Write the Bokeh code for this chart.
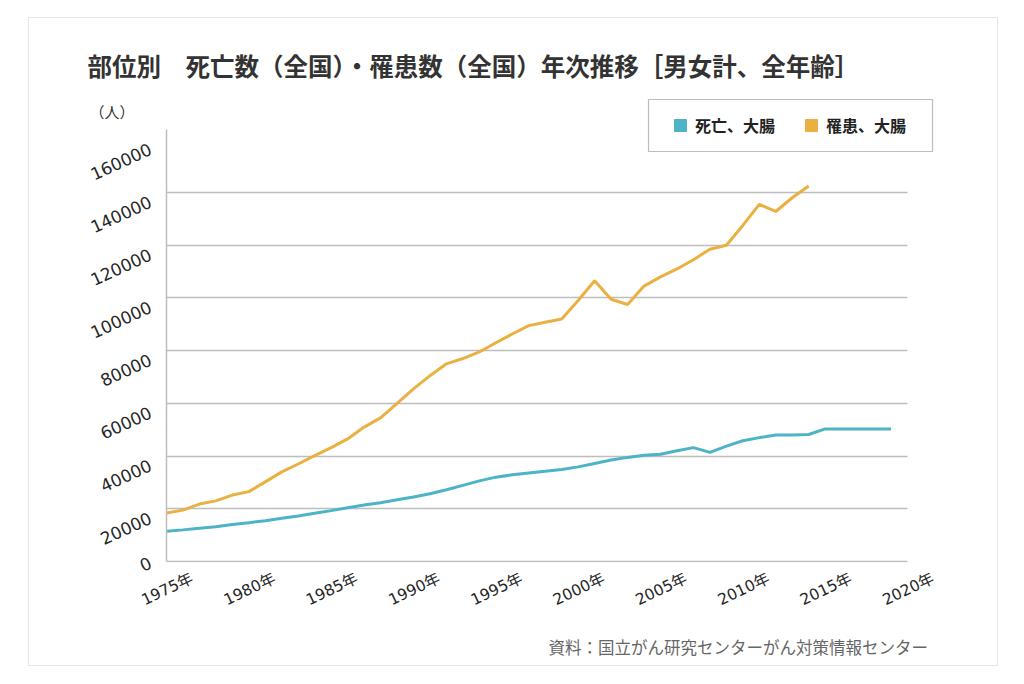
from bokeh.plotting import figure
from bokeh.models import (Range1d, FixedTicker, Legend, LegendItem, BoxAnnotation,
                          Title, LinearAxis, InlineStyleSheet)
from bokeh.embed import file_html
from bokeh.resources import INLINE

# ---- data ----
years_death = list(range(1975, 2020))
deaths = [11500, 12000, 12600, 13200, 14000, 14700, 15500, 16400, 17300, 18300,
          19300, 20400, 21400, 22300, 23400, 24500, 25700, 27200, 28900, 30600,
          32000, 32900, 33600, 34200, 34900, 35900, 37200, 38500, 39500, 40300,
          40700, 42000, 43200, 41400, 43800, 45800, 47000, 48000, 48000, 48200,
          50300, 50300, 50300, 50300, 50300]
years_inc = list(range(1975, 2015))
incidence = [18400, 19500, 21800, 23000, 25200, 26500, 30200, 34000, 37000, 40200,
             43200, 46500, 51000, 54500, 60000, 65500, 70500, 75000, 77000, 79500,
             83000, 86300, 89500, 90800, 92000, 99000, 106500, 99500, 97500, 104500,
             108000, 111000, 114500, 118500, 120000, 127500, 135500, 132800, 138000, 142500]
series_names = ["死亡、大腸", "罹患、大腸"]
x_ticks = [1975, 1980, 1985, 1990, 1995, 2000, 2005, 2010, 2015, 2020]
x_tick_labels = [f"{y}年" for y in x_ticks]
y_ticks = [0, 20000, 40000, 60000, 80000, 100000, 120000, 140000, 160000]
y_tick_labels = [str(v) for v in y_ticks]
title_text = "部位別　死亡数（全国）・罹患数（全国）年次推移［男女計、全年齢］"
unit_text = "（人）"
source_text = "資料：国立がん研究センターがん対策情報センター"

BLUE = "#4db3c6"
ORANGE = "#e9b042"
GRID = "#bdbdbd"
CJK = "Noto Sans CJK JP"
NUMF = "'DejaVu Sans', 'Noto Sans CJK JP'"
NAN = float("nan")

# ---- geometry (page pixels) ----
W, H = 1008, 676
FL, FT, FB = 166, 90, 562          # frame left / top / bottom
X0_PX, X1_PX = 166, 907            # 1975 and 2020
Y0_PX, PX_PER = 561, 369 / 140000  # value 0 and px per unit
px_per_year = (X1_PX - X0_PX) / 45
x_end = 2020 + (W - X1_PX) / px_per_year
y_start = -(FB - Y0_PX) / PX_PER
y_end = (Y0_PX - FT) / PX_PER
AXIS_TOP = 164000

p = figure(width=W, height=H, output_backend="svg", toolbar_location=None,
           x_range=Range1d(1975, x_end), y_range=Range1d(y_start, y_end),
           min_border_left=FL, min_border_right=0, min_border_top=FT,
           min_border_bottom=H - FB)
p.outline_line_color = None
p.background_fill_color = "white"
p.border_fill_color = "white"

# main title
p.title.text = title_text
p.title.align = "left"
p.title.offset = 87 - FL
p.title.text_font = CJK
p.title.text_font_size = "24.5px"
p.title.text_font_style = "bold"
p.title.text_color = "#333333"
p.title.standoff = 15

# x axis (labels centred under their year; line drawn by the zero grid line)
shift = 1.5625
p.xaxis.ticker = FixedTicker(ticks=[t + shift for t in x_ticks])
p.xaxis.major_label_overrides = {t + shift: lab for t, lab in zip(x_ticks, x_tick_labels)}
p.xaxis.axis_line_color = None
p.xaxis.major_label_standoff = 15

# y axis (long labels hang slightly below their grid line, as in the original)
y_label_pos = [v - (0 if v == 0 else 8) / PX_PER for v in y_ticks]
p.yaxis.ticker = FixedTicker(ticks=y_label_pos)
p.yaxis.major_label_overrides = dict(zip(y_label_pos, y_tick_labels))
p.yaxis.bounds = (0, AXIS_TOP)
p.yaxis.axis_line_color = GRID
p.yaxis.axis_line_width = 1.5
p.yaxis.major_label_standoff = 16

for ax in (p.xaxis[0], p.yaxis[0]):
    ax.major_tick_line_color = None
    ax.minor_tick_line_color = None
    ax.major_tick_out = 0
    ax.major_tick_in = 0
    ax.major_label_text_font = NUMF
    ax.major_label_text_color = "#262626"
p.xaxis.major_label_orientation = 0.44
p.yaxis.major_label_orientation = 0.43
p.xaxis.major_label_text_font_size = "15.5px"
p.yaxis.major_label_text_font_size = "17px"

# unit label as an outer left axis with one tick
unit_v = (Y0_PX - 111) / PX_PER
unit_axis = LinearAxis(ticker=FixedTicker(ticks=[unit_v]),
                       major_label_overrides={unit_v: unit_text},
                       axis_line_color=None, major_tick_line_color=None,
                       minor_tick_line_color=None, major_tick_out=0, major_tick_in=0,
                       major_label_standoff=-51, major_label_orientation="horizontal",
                       major_label_text_font=CJK, major_label_text_font_size="15px",
                       major_label_text_color="#333333")
p.add_layout(unit_axis, "left")

# grid
p.xgrid.visible = False
p.ygrid.ticker = FixedTicker(ticks=y_ticks[:-1])
p.ygrid.grid_line_color = GRID
p.ygrid.grid_line_width = 1.5
if hasattr(p.ygrid[0], "cross_bounds"):
    p.ygrid.cross_bounds = (1975, 2020)

# data lines
p.line(years_death, deaths, line_color=BLUE, line_width=3)
p.line(years_inc, incidence, line_color=ORANGE, line_width=3)

# legend (square swatches; renderers hold no visible point)
r1 = p.scatter([NAN], [NAN], marker="square", size=12, fill_color=BLUE, line_color=BLUE)
r2 = p.scatter([NAN], [NAN], marker="square", size=12, fill_color=ORANGE, line_color=ORANGE)
legend = Legend(items=[LegendItem(label=series_names[0], renderers=[r1]),
                       LegendItem(label=series_names[1], renderers=[r2])],
                orientation="horizontal", location=(654 - FL, FB - 151),
                glyph_width=30, glyph_height=30, label_standoff=0, spacing=21,
                padding=11, margin=0, border_line_alpha=0, background_fill_alpha=0,
                label_text_font=CJK, label_text_font_size="16px",
                label_text_font_style="bold", label_text_color="#222222")
p.add_layout(legend)
p.add_layout(BoxAnnotation(left=648 - FL, right=932 - FL, top=FB - 99, bottom=FB - 151,
                           left_units="screen", right_units="screen",
                           top_units="screen", bottom_units="screen",
                           fill_alpha=0, line_color="#222222", line_width=1.2))

# source note
p.add_layout(Title(text=source_text, align="left", offset=548 - FL,
                   text_font=CJK, text_font_size="16.5px", text_font_style="normal",
                   text_color="#666666", standoff=24), "below")

# light card border
p.stylesheets = [InlineStyleSheet(css=(
    ":host{position:relative;}"
    ":host::after{content:'';position:absolute;left:28px;top:17px;width:970px;"
    "height:649px;border:1px solid #e6e6e6;box-sizing:border-box;pointer-events:none;}"))]

open("out.html", "w").write(file_html(p, INLINE))
